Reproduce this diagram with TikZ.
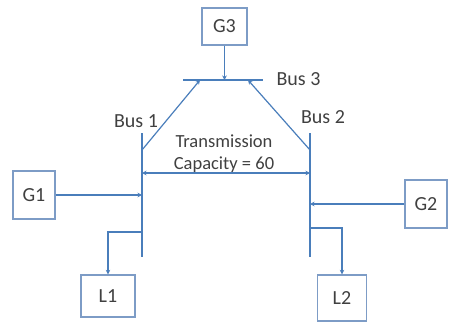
\documentclass[tikz,border=0pt]{standalone}
\usepackage{fontspec}
\setmainfont{Carlito}
\usetikzlibrary{arrows.meta,positioning,calc}
\definecolor{LineBlue}{HTML}{4A7EBB}
\definecolor{BoxBlue}{HTML}{7D9CC6}
\definecolor{Ink}{HTML}{404040}

\begin{document}
\begin{tikzpicture}[x=1pt,y=-1pt,>={Stealth[length=4.5pt,width=4.5pt]}]
    \tikzset{
      unit/.style={draw=BoxBlue,line width=1.3pt,inner sep=0pt,
                   font=\fontsize{20}{22}\selectfont,text=Ink},
      bus/.style={draw=LineBlue,line width=2.8pt},
      link/.style={->,draw=LineBlue,line width=1.2pt},
      tag/.style={font=\fontsize{20}{22}\selectfont,text=Ink}
    }
    \useasboundingbox (0,0) rectangle (450,322);
    % generator and load boxes
    \node[unit,minimum width=45pt,minimum height=37pt] (g3) at (224.5,26.5) {G3};
    \node[unit,minimum width=42pt,minimum height=48pt] (g1) at (34,195) {G1};
    \node[unit,minimum width=42pt,minimum height=48pt] (g2) at (426,204) {G2};
    \node[unit,minimum width=54pt,minimum height=42pt] (l1) at (108,296) {L1};
    \node[unit,minimum width=49pt,minimum height=46pt] (l2) at (342,298) {L2};
    % buses
    \coordinate (b3l) at (183,80);
    \coordinate (b3r) at (263,80);
    \coordinate (b1t) at (142,133);
    \coordinate (b1b) at (142,257);
    \coordinate (b2t) at (310,133);
    \coordinate (b2b) at (310,257);
    \draw[bus] (b3l) -- (b3r);
    \draw[bus] (b1t) -- (b1b);
    \draw[bus] (b2t) -- (b2b);
    \node[tag,anchor=west] (bus3) at (273,79) {Bus 3};
    \node[tag] (bus1) at (136,121) {Bus 1};
    \node[tag] (bus2) at (323,117) {Bus 2};
    % taps on the buses
    \coordinate (b3g) at (224.5,80);
    \coordinate (b3a) at (200,80);
    \coordinate (b3b) at (248,80);
    \coordinate (b1a) at (142,150);
    \coordinate (b2a) at (310,150);
    \coordinate (b1c) at (142,173);
    \coordinate (b2c) at (310,173);
    \coordinate (b1g) at (142,195);
    \coordinate (b2g) at (310,204);
    \coordinate (b1l) at (142,232);
    \coordinate (b2l) at (310,228);
    % lines
    \draw[link] (g3) -- (b3g);
    \draw[link] (b1a) -- (b3a);
    \draw[link] (b2a) -- (b3b);
    \draw[link,<->] (b1c) -- (b2c);
    \node[font=\fontsize{18.5}{22}\selectfont,text=Ink,align=center] (cap)
      at (224,154) {Transmission\\Capacity = 60};
    \draw[link] (g1.east |- b1g) -- (b1g);
    \draw[link] (g2.west |- b2g) -- (b2g);
    \draw[link] (b1l) -| (l1.north);
    \draw[link] (b2l) -| (l2.north);
  \end{tikzpicture}
\end{document}
